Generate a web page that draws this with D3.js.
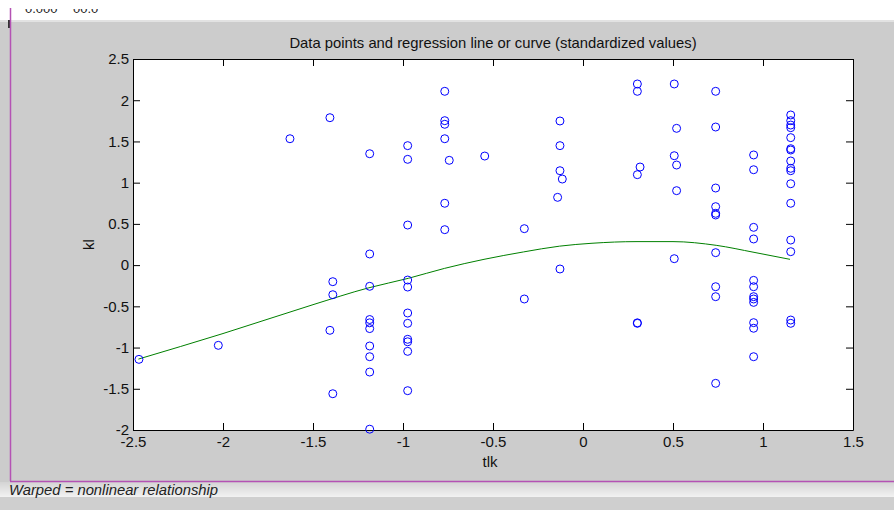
<!DOCTYPE html>
<html>
<head>
<meta charset="utf-8">
<script src="https://cdn.jsdelivr.net/npm/d3@7"></script>
<style>
  body { margin: 0; background: #cccccc; }
  svg { display: block; font-family: "Liberation Sans", Arial, sans-serif; }
  .axis text { font-size: 15px; fill: #111; }
  .axis path, .axis line { stroke: #000; }
</style>
</head>
<body>
<div id="chart"></div>
<script>
// scatter points (standardized values)
const tlk = [
  -2.467, -2.026, -1.628, -1.406, -1.39, -1.39, -1.406, -1.39,
  -1.185, -1.185, -1.185, -1.185, -1.185, -1.185, -1.185, -1.185, -1.185, -1.185,
  -0.974, -0.974, -0.974, -0.974, -0.974, -0.974, -0.974, -0.974, -0.974, -0.974, -0.974,
  -0.768, -0.768, -0.768, -0.768, -0.768, -0.768, -0.743,
  -0.546, -0.326, -0.326,
  -0.128, -0.128, -0.128, -0.115, -0.141, -0.128,
  0.302, 0.302, 0.317, 0.302, 0.302, 0.302,
  0.507, 0.52, 0.507, 0.52, 0.52, 0.507,
  0.737, 0.737, 0.737, 0.737, 0.737, 0.737, 0.737, 0.737, 0.737, 0.737,
  0.948, 0.948, 0.948, 0.948, 0.948, 0.948, 0.948, 0.948, 0.948, 0.948, 0.948, 0.948,
  1.154, 1.154, 1.154, 1.154, 1.154, 1.154, 1.154, 1.154, 1.154, 1.154, 1.154, 1.154, 1.154, 1.154, 1.154, 1.154
];
const kl = [
  -1.143, -0.973, 1.533, 1.788, -0.201, -0.359, -0.791, -1.56,
  1.351, 0.135, -0.257, -0.66, -0.70, -0.77, -0.981, -1.111, -1.297, -1.99,
  1.449, 1.283, 0.486, -0.181, -0.266, -0.581, -0.706, -0.90, -0.93, -1.046, -1.523,
  2.108, 1.752, 1.708, 1.533, 0.75, 0.43, 1.271,
  1.323, 0.442, -0.411,
  1.748, 1.449, 1.145, 1.044, 0.822, -0.047,
  2.197, 2.108, 1.19, 1.097, -0.706, -0.70,
  2.197, 1.659, 1.327, 1.214, 0.903, 0.078,
  2.108, 1.675, 0.935, 0.709, 0.628, 0.608, 0.151, -0.262, -0.383, -1.434,
  1.336, 1.157, 0.458, 0.317, -0.185, -0.262, -0.383, -0.411, -0.452, -0.698, -0.766, -1.111,
  1.821, 1.752, 1.699, 1.667, 1.546, 1.412, 1.396, 1.263, 1.174, 1.145, 0.987, 0.75, 0.304, 0.163, -0.666, -0.706
];

// regression curve, read at a few x positions
const fitX = [-2.47, -2.0, -1.5, -1.19, -0.97, -0.77, -0.55, -0.33, -0.13, 0.05, 0.3, 0.5, 0.74, 0.95, 1.15];
const fitY = [-1.14, -0.83, -0.48, -0.275, -0.16, -0.04, 0.07, 0.16, 0.23, 0.265, 0.285, 0.285, 0.24, 0.155, 0.07];

const xTicks = [-2.5, -2, -1.5, -1, -0.5, 0, 0.5, 1, 1.5];
const yTicks = [-2, -1.5, -1, -0.5, 0, 0.5, 1, 1.5, 2, 2.5];

const W = 894, H = 510;
const plot = { left: 133, right: 853, top: 59, bottom: 430 };

const svg = d3.select("#chart")
    .append("svg")
    .attr("width", W)
    .attr("height", H);

// window chrome around the figure
svg.append("rect").attr("width", W).attr("height", H).attr("fill", "#cccccc");
svg.append("rect").attr("width", W).attr("height", 20).attr("fill", "#ffffff");
svg.append("rect").attr("y", 20).attr("width", W).attr("height", 2).attr("fill", "#e2e2e2");

const grad = svg.append("defs").append("linearGradient")
    .attr("id", "band").attr("x1", 0).attr("y1", 0).attr("x2", 0).attr("y2", 1);
grad.append("stop").attr("offset", "0%").attr("stop-color", "#d4d4d4");
grad.append("stop").attr("offset", "100%").attr("stop-color", "#f2f2f2");
svg.append("rect").attr("y", 482).attr("width", W).attr("height", 15).attr("fill", "url(#band)");
svg.append("rect").attr("y", 497).attr("width", W).attr("height", 13).attr("fill", "#cfcfcf");

// text cut off by the top of the screenshot
svg.append("clipPath").attr("id", "topclip")
  .append("rect").attr("x", 0).attr("y", 9).attr("width", 200).attr("height", 8);
svg.append("g").attr("clip-path", "url(#topclip)")
  .selectAll("text")
  .data([{ x: 25, t: "0.000" }, { x: 73, t: "00.0" }])
  .join("text")
    .attr("x", d => d.x)
    .attr("y", 13)
    .attr("font-size", 13)
    .attr("fill", "#222")
    .text(d => d.t);

svg.append("rect").attr("x", 8).attr("y", 20).attr("width", 2).attr("height", 8).attr("fill", "#333");
svg.append("line").attr("x1", 10.5).attr("x2", 10.5).attr("y1", 8).attr("y2", 481)
    .attr("stroke", "#b452b4").attr("stroke-width", 1.5);
svg.append("line").attr("x1", 10).attr("x2", W).attr("y1", 481.5).attr("y2", 481.5)
    .attr("stroke", "#b452b4").attr("stroke-width", 1.5);

svg.append("text")
    .attr("x", 9)
    .attr("y", 495)
    .attr("font-size", 14.8)
    .attr("font-style", "italic")
    .attr("fill", "#222")
    .text("Warped = nonlinear relationship");

// axes
const x = d3.scaleLinear().domain([-2.5, 1.5]).range([plot.left, plot.right]);
const y = d3.scaleLinear().domain([-2, 2.5]).range([plot.bottom, plot.top]);
const fmt = d => String(d);

svg.append("rect")
    .attr("x", plot.left).attr("y", plot.top)
    .attr("width", plot.right - plot.left).attr("height", plot.bottom - plot.top)
    .attr("fill", "#ffffff");

svg.append("g")
    .attr("class", "axis")
    .attr("transform", `translate(0,${plot.bottom})`)
    .call(d3.axisBottom(x).tickValues(xTicks).tickFormat(fmt).tickSizeInner(-7).tickSizeOuter(0).tickPadding(6));

svg.append("g")
    .attr("class", "axis")
    .attr("transform", `translate(0,${plot.top})`)
    .call(d3.axisTop(x).tickValues(xTicks).tickFormat("").tickSizeInner(-7).tickSizeOuter(0));

svg.append("g")
    .attr("class", "axis")
    .attr("transform", `translate(${plot.left},0)`)
    .call(d3.axisLeft(y).tickValues(yTicks).tickFormat(fmt).tickSizeInner(-7).tickSizeOuter(0).tickPadding(4));

svg.append("g")
    .attr("class", "axis")
    .attr("transform", `translate(${plot.right},0)`)
    .call(d3.axisRight(y).tickValues(yTicks).tickFormat("").tickSizeInner(-7).tickSizeOuter(0));

svg.selectAll(".axis .domain").attr("stroke-width", 1);

svg.append("text")
    .attr("x", (plot.left + plot.right) / 2)
    .attr("y", 48)
    .attr("text-anchor", "middle")
    .attr("font-size", 14.8)
    .attr("fill", "#111")
    .text("Data points and regression line or curve (standardized values)");

svg.append("text")
    .attr("x", (plot.left + plot.right) / 2 - 3)
    .attr("y", 467)
    .attr("text-anchor", "middle")
    .attr("font-size", 15)
    .attr("fill", "#111")
    .text("tlk");

svg.append("text")
    .attr("transform", `translate(94,${(plot.top + plot.bottom) / 2}) rotate(-90)`)
    .attr("text-anchor", "middle")
    .attr("font-size", 15)
    .attr("fill", "#111")
    .text("kl");

// regression curve
const fit = fitX.map((v, i) => ({ x: v, y: fitY[i] }));
const line = d3.line()
    .x(d => x(d.x))
    .y(d => y(d.y))
    .curve(d3.curveMonotoneX);

svg.append("path")
    .datum(fit)
    .attr("d", line)
    .attr("fill", "none")
    .attr("stroke", "#008000")
    .attr("stroke-width", 1);

// data points
svg.append("g")
  .selectAll("circle")
  .data(tlk.map((v, i) => ({ x: v, y: kl[i] })))
  .join("circle")
    .attr("cx", d => x(d.x))
    .attr("cy", d => y(d.y))
    .attr("r", 4)
    .attr("fill", "none")
    .attr("stroke", "#0000ff")
    .attr("stroke-width", 1);
</script>
</body>
</html>
